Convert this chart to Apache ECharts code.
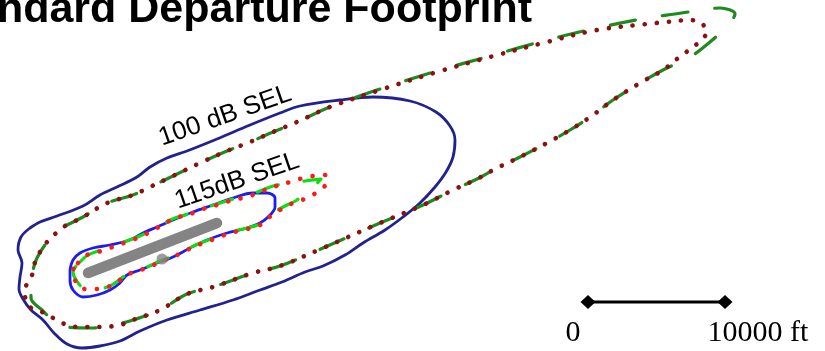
<!DOCTYPE html>
<html>
<head>
<meta charset="utf-8">
<script src="https://cdn.jsdelivr.net/npm/echarts@6/dist/echarts.min.js"></script>
<style>
html,body{margin:0;padding:0;background:#fff;}
#c{width:825px;height:351px;}
</style>
</head>
<body>
<div id="c"></div>
<script>
// Contours in map units (x to the right, y downward)
const contour100Solid = [[30,228],[21,237],[18,250],[22,263],[20,277],[19,289],[23,299],[31,310],[43,320],[54,333],[67,344],[82,348],[100,346],[120,341],[140,331],[167,320],[200,310],[233,300],[260,290],[282,282],[305,272],[323,266],[345,255],[363,243],[385,230],[403,217],[420,203],[435,187],[446,172],[453,157],[455,140],[450,126],[436,112],[410,101],[373,97],[340,100],[300,106],[280,113],[250,125],[217,139],[187,151],[167,158],[150,167],[137,177],[117,187],[100,195],[83,206],[57,216],[40,222],[30,228]];
const contour100Dashed = [[65,226],[83,217],[107,203],[133,195],[150,187],[173,176],[200,163],[227,151],[250,142],[273,132],[297,122],[330,107],[380,89],[437,71],[490,56],[547,40],[597,28],[647,18],[675,14],[702,10],[720,8],[735,14],[728,25],[710,42],[690,57],[663,70],[640,83],[613,100],[593,115],[570,130],[547,143],[520,157],[497,168],[477,179],[453,190],[423,205],[380,223],[323,248],[280,266],[253,273],[213,287],[187,294],[160,310],[133,320],[110,326],[90,328],[67,327],[52,319],[42,310],[31,298],[31,283],[33,270],[37,258],[45,245],[55,234],[65,226]];
const contour100Dotted = [[65,226],[83,217],[107,203],[133,195],[150,187],[173,176],[200,163],[227,151],[250,142],[273,132],[297,122],[330,107],[380,90],[437,72],[490,57],[547,42],[597,30],[647,24],[666,22],[690,20],[701,23],[707,32],[700,41],[692,48],[682,55],[663,70],[640,83],[613,100],[593,115],[570,130],[547,143],[520,157],[497,168],[477,179],[453,190],[423,205],[380,223],[323,248],[280,266],[253,273],[213,287],[187,294],[160,310],[133,320],[120,325],[100,327],[85,327],[70,326],[57,320],[40,311],[30,307],[25,295],[27,283],[33,273],[35,262],[40,252],[47,242],[55,234],[65,226]];
const contour115Solid = [[70,270],[73,260],[80,253],[93,248],[110,245],[130,240],[143,233],[157,227],[173,220],[193,212],[213,205],[233,198],[253,193],[267,193],[275,198],[275,207],[268,217],[260,223],[247,228],[227,233],[207,240],[190,248],[173,257],[157,263],[140,270],[127,275],[120,283],[110,290],[97,295],[83,297],[73,290],[70,280],[70,270]];
const contour115Dashed = [[80,262],[88,255],[98,251],[110,247],[132,239],[142,235],[157,227],[175,218],[188,214],[200,209],[217,204],[233,199],[247,196],[260,191],[273,186],[290,183],[305,181],[321,179],[314,186],[305,192],[297,200],[285,206],[273,213],[260,224],[243,229],[230,232],[217,237],[203,242],[187,249],[173,256],[160,261],[147,267],[133,271],[123,277],[110,286],[97,289],[84,288],[76,280],[73,272],[80,262]];
const contour115Dotted = [[78,263],[87,255],[98,252],[110,248],[132,240],[142,236],[157,228],[175,218],[188,215],[200,210],[217,205],[233,200],[247,197],[260,192],[273,187],[290,182],[303,178],[313,176],[325,175],[327,182],[317,192],[307,198],[293,203],[280,210],[272,215],[260,225],[243,230],[230,233],[217,238],[203,243],[187,250],[173,257],[160,262],[147,268],[133,272],[123,278],[110,286],[97,289],[85,289],[77,283],[72,273],[78,263]];
const runway = [[88,273],[217,223]];
const startPoint = [[162,259]];
const scaleBarX = [588, 725];
const scaleBarY = 302;
const scaleLabels = ['0', '10000 ft'];
const contourLabels = ['100 dB SEL', '115dB SEL'];
const titleText = 'Standard Departure Footprint';

const chart = echarts.init(document.getElementById('c'), null, {renderer:'canvas'});
function lineSeries(data, color, width, dash, z) {
  return {
    type:'line', data:data, smooth:0.35, showSymbol:false, silent:true, z:z,
    lineStyle:{color:color, width:width, type:dash || 'solid', cap:'round', join:'round'}
  };
}
chart.setOption({
  animation:false,
  backgroundColor:'#ffffff',
  title:{text:titleText, right:293, top:-11, padding:0,
    textStyle:{fontFamily:'"Liberation Sans", Arial, sans-serif', fontWeight:'bold', fontSize:43, color:'#000'}},
  grid:{left:0, right:0, top:0, bottom:0},
  xAxis:{type:'value', min:0, max:825, show:false},
  yAxis:{type:'value', min:0, max:351, inverse:true, show:false},
  series:[
    lineSeries(contour100Solid, '#22228e', 2.8, 'solid', 2),
    lineSeries(contour100Dashed, '#1f8a1f', 3.2, [26, 27], 3),
    lineSeries(contour100Dotted, '#8b1010', 4.6, [0.1, 12], 4),
    lineSeries(contour115Solid, '#1c1cf0', 2.8, 'solid', 5),
    lineSeries(contour115Dashed, '#10dd10', 3.2, [22, 26], 6),
    lineSeries(contour115Dotted, '#ff1a1a', 4.6, [0.1, 12.5], 7),
    {type:'line', data:runway, showSymbol:false, silent:true, z:8,
      lineStyle:{color:'#848484', width:10.5, cap:'round'}},
    {type:'scatter', data:startPoint, symbol:'circle', symbolSize:11, silent:true, z:9,
      itemStyle:{color:'#848484'}},
    {type:'line', silent:true, z:10, symbol:'diamond', symbolSize:[15,14], showSymbol:true,
      lineStyle:{color:'#000', width:3},
      itemStyle:{color:'#000'},
      data:[
        {value:[scaleBarX[0], scaleBarY], label:{show:true, position:'inside', offset:[-15,31], formatter:scaleLabels[0]}},
        {value:[scaleBarX[1], scaleBarY], label:{show:true, position:'inside', offset:[33,31], formatter:scaleLabels[1]}}
      ],
      label:{color:'#000', fontSize:30, fontFamily:'"Liberation Serif", "Times New Roman", serif'}
    }
  ],
  graphic:[
    {type:'text', x:225, y:116, rotation:19.3*Math.PI/180, z:20,
      style:{text:contourLabels[0], fill:'#000', font:'26px "Liberation Sans", Arial, sans-serif', align:'center', verticalAlign:'middle'}},
    {type:'text', x:237, y:181, rotation:18.9*Math.PI/180, z:20,
      style:{text:contourLabels[1], fill:'#000', font:'26px "Liberation Sans", Arial, sans-serif', align:'center', verticalAlign:'middle'}}
  ]
});
</script>
</body>
</html>
